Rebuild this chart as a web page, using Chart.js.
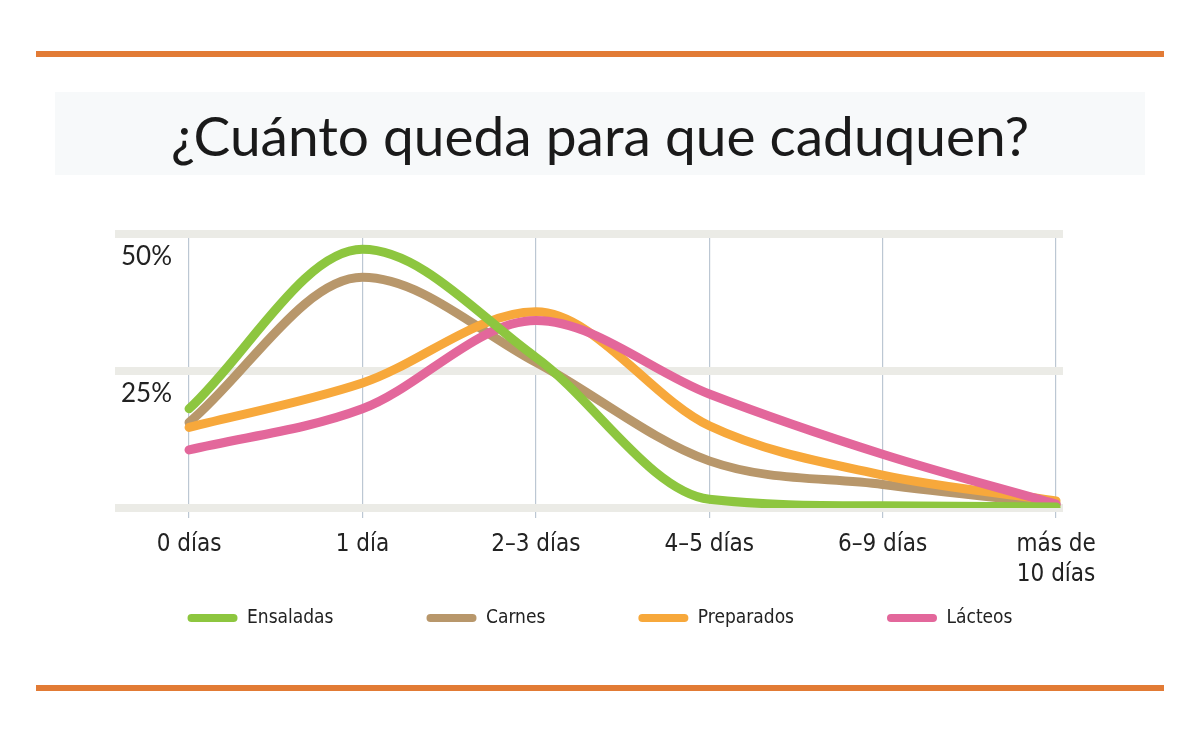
<!DOCTYPE html>
<html>
<head>
<meta charset="utf-8">
<script src="https://cdn.jsdelivr.net/npm/chart.js@4.4.1/dist/chart.umd.min.js"></script>
<style>
html,body{margin:0;padding:0;background:#fff;}
#wrap{width:1200px;height:740px;position:relative;}
canvas{display:block;}
</style>
</head>
<body>
<div id="wrap"><canvas id="c" width="1200" height="740"></canvas></div>
<script>
const titleText = '¿Cuánto queda para que caduquen?';
const categories = ['0 días', '1 día', '2–3 días', '4–5 días', '6–9 días', ['más de', '10 días']];
const seriesNames = ['Ensaladas', 'Carnes', 'Preparados', 'Lácteos'];
const ensaladas  = [18.1, 47.2, 27.5, 1.6, 0.4, 0.2];
const carnes     = [15.6, 42.1, 26.6, 8.6, 4.3, 0.7];
const preparados = [14.7, 22.8, 35.8, 15.0, 6.0, 1.3];
const lacteos    = [10.6, 18.1, 34.2, 20.8, 9.8, 0.7];
const yTicks = [0, 25, 50];

const seriesValues = [ensaladas, carnes, preparados, lacteos];
const seriesColors = ['#8dc63f', '#b8976b', '#f7a83b', '#e3679b'];
const drawOrder = [0, 3, 2, 1];

const decor = {
  id: 'decor',
  beforeDraw(chart) {
    const ctx = chart.ctx;
    ctx.save();
    ctx.fillStyle = '#ffffff';
    ctx.fillRect(0, 0, chart.width, chart.height);
    ctx.fillStyle = '#f7f9fa';
    ctx.fillRect(55, 92, 1090, 83);
    ctx.fillStyle = '#e27b35';
    ctx.fillRect(36, 51, 1128, 6);
    ctx.fillRect(36, 685, 1128, 6);
    ctx.restore();
  },
  afterLayout(chart) {
    const lg = chart.legend;
    const pad = 93, fs = 19;
    const cur = lg.top + pad + fs / 2;
    const d = 618 - cur;
    lg.top += d;
    lg.bottom += d;
  }
};

new Chart(document.getElementById('c').getContext('2d'), {
  type: 'line',
  data: {
    datasets: seriesNames.map((n, i) => ({
      label: n,
      data: seriesValues[i].map((v, j) => ({x: j, y: v})),
      borderColor: seriesColors[i],
      backgroundColor: seriesColors[i],
      borderWidth: 9,
      pointRadius: 0,
      pointHoverRadius: 0,
      fill: false,
      cubicInterpolationMode: 'monotone',
      borderCapStyle: 'round',
      borderJoinStyle: 'round',
      order: drawOrder[i]
    }))
  },
  options: {
    responsive: false,
    animation: false,
    events: [],
    layout: {padding: {top: 0, left: 0, right: 0, bottom: 16}},
    scales: {
      x: {
        type: 'linear',
        min: -0.427,
        max: 5.04,
        afterBuildTicks: s => { s.ticks = categories.map((_, i) => ({value: i})); },
        grid: {color: '#bcc7d3', lineWidth: 1.2, tickLength: 10, drawTicks: true},
        border: {display: false},
        ticks: {
          padding: 12, color: '#222', maxRotation: 0, autoSkip: false,
          font: {family: 'DejaVu Sans Condensed', size: 24, lineHeight: 1.25},
          callback: v => categories[v]
        }
      },
      y: {
        position: 'left',
        min: 0, max: 50,
        afterBuildTicks: s => { s.ticks = yTicks.map(v => ({value: v})); },
        afterFit: s => { s.width = 115; },
        grid: {color: '#ebebe6', lineWidth: 8, drawTicks: false},
        border: {display: false},
        ticks: {
          mirror: true, padding: 6, labelOffset: 23, color: '#222',
          font: {family: 'Lato', size: 26},
          callback: v => v === 0 ? '' : v + '%'
        }
      },
      yR: {
        position: 'right',
        display: true,
        grid: {display: false},
        border: {display: false},
        ticks: {display: false},
        afterFit: s => { s.width = 137; }
      }
    },
    plugins: {
      title: {
        display: true, text: titleText, color: '#1a1a1a',
        font: {family: 'Lato', size: 55, weight: 'normal', lineHeight: 1.2},
        padding: {top: 105, bottom: 63}
      },
      legend: {
        position: 'bottom',
        labels: {
          color: '#222',
          font: {family: 'DejaVu Sans Condensed', size: 19},
          boxWidth: 50, boxHeight: 8, padding: 93,
          useBorderRadius: true, borderRadius: 4,
          sort: (a, b) => a.datasetIndex - b.datasetIndex,
          generateLabels: chart => {
            const items = Chart.defaults.plugins.legend.labels.generateLabels(chart);
            items.forEach(it => {
              it.fillStyle = seriesColors[it.datasetIndex];
              it.strokeStyle = seriesColors[it.datasetIndex];
              it.lineWidth = 0;
              it.borderRadius = 4;
            });
            return items;
          }
        }
      },
      tooltip: {enabled: false}
    }
  },
  plugins: [decor]
});
</script>
</body>
</html>
